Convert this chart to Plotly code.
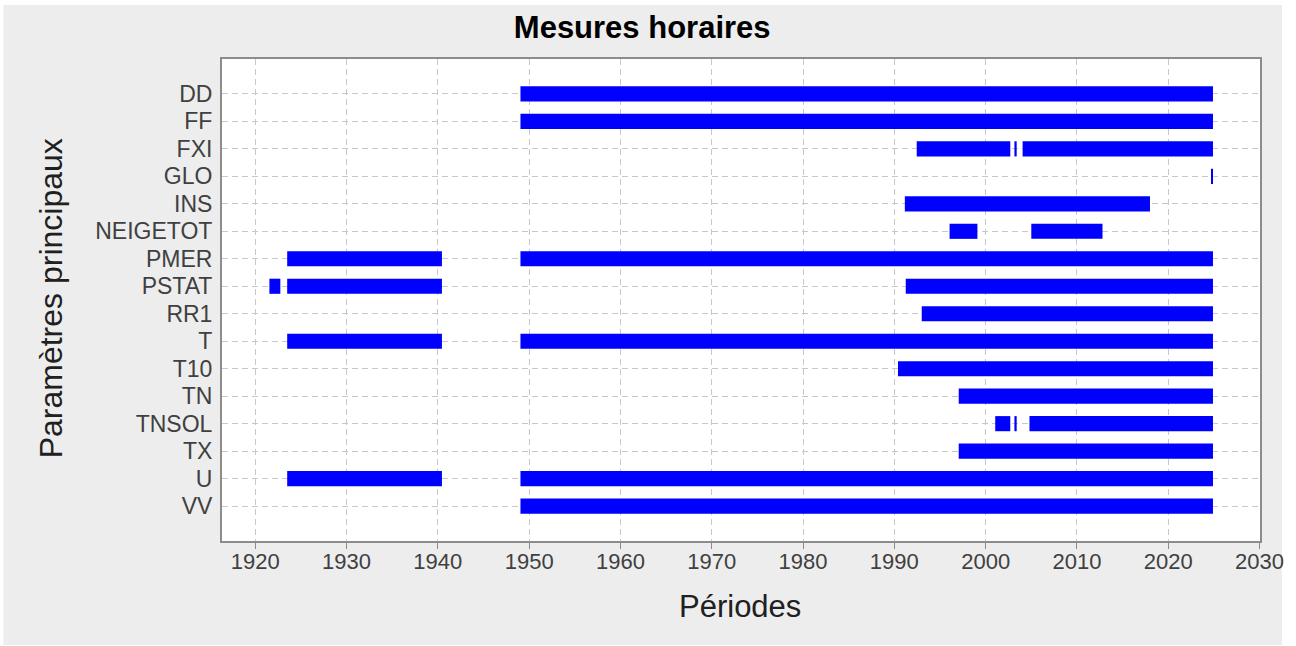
import plotly.graph_objects as go

# Parameters (top to bottom) and their measurement periods (start year, end year)
parametres = ["DD", "FF", "FXI", "GLO", "INS", "NEIGETOT", "PMER", "PSTAT",
              "RR1", "T", "T10", "TN", "TNSOL", "TX", "U", "VV"]

periodes = {
    "DD": [(1949.05, 2024.9)],
    "FF": [(1949.05, 2024.9)],
    "FXI": [(1992.45, 2002.7), (2003.15, 2003.4), (2004.05, 2024.9)],
    "GLO": [(2024.78, 2024.9)],
    "INS": [(1991.15, 2018.0)],
    "NEIGETOT": [(1996.05, 1999.1), (2005.0, 2012.8)],
    "PMER": [(1923.5, 1940.45), (1949.05, 2024.9)],
    "PSTAT": [(1921.55, 1922.75), (1923.5, 1940.45), (1991.25, 2024.9)],
    "RR1": [(1993.0, 2024.9)],
    "T": [(1923.5, 1940.45), (1949.05, 2024.9)],
    "T10": [(1990.4, 2024.9)],
    "TN": [(1997.05, 2024.9)],
    "TNSOL": [(2001.05, 2002.7), (2003.15, 2003.4), (2004.8, 2024.9)],
    "TX": [(1997.05, 2024.9)],
    "U": [(1923.5, 1940.45), (1949.05, 2024.9)],
    "VV": [(1949.05, 2024.9)],
}

annees_ticks = [1920, 1930, 1940, 1950, 1960, 1970, 1980, 1990, 2000, 2010, 2020, 2030]

titre = "Mesures horaires"
titre_x = "Périodes"
titre_y = "Paramètres principaux"

# Flatten the periods into one horizontal bar trace (start = base, length = x)
ys, bases, longueurs = [], [], []
for p in parametres:
    for debut, fin in periodes[p]:
        ys.append(p)
        bases.append(debut)
        longueurs.append(fin - debut)

W, H = 1296, 646
L, R, T, B = 222, 1262, 59, 541  # plot area in pixels
pw, ph = R - L, B - T


def px_x(x):
    return (x - L) / pw


def px_y(y):
    return (B - y) / ph


police = "Liberation Sans, Arial, sans-serif"

fig = go.Figure()
fig.add_trace(go.Bar(
    y=ys, x=longueurs, base=bases, orientation="h",
    width=0.55, marker=dict(color="#0000ff", line=dict(width=0)),
    hoverinfo="skip", showlegend=False,
))

grille = dict(showgrid=True, gridcolor="#c8c8c8", gridwidth=1, griddash="6px,4px")

fig.update_layout(
    width=W, height=H,
    margin=dict(l=L, r=W - R, t=T, b=H - B, pad=0),
    paper_bgcolor="white",
    plot_bgcolor="rgba(0,0,0,0)",
    font=dict(family=police, color="#404040"),
    title=dict(text="<b>" + titre + "</b>", font=dict(size=31, color="black", family=police),
               xref="paper", x=px_x(643), xanchor="center",
               yref="container", y=1 - 27 / H, yanchor="middle"),
    xaxis=dict(range=[1916.36, 2030.05], tickvals=annees_ticks, ticks="outside",
               ticklen=6, tickwidth=1, tickcolor="#8c8c8c", ticklabelstandoff=-6,
               tickfont=dict(size=22, color="#404040"),
               showline=True, linewidth=2, linecolor="#8c8c8c", mirror=True,
               zeroline=False, **grille),
    yaxis=dict(type="category", categoryorder="array", categoryarray=parametres,
               tickmode="array", tickvals=parametres, ticktext=parametres,
               range=[16.27, -1.27], ticks="", ticklabelstandoff=3,
               tickfont=dict(size=23, color="#404040"),
               showline=True, linewidth=2, linecolor="#8c8c8c", mirror=True,
               zeroline=False, **grille),
    shapes=[
        dict(type="rect", xref="paper", yref="paper", layer="below",
             x0=px_x(3), x1=px_x(1284), y0=px_y(645), y1=px_y(5),
             fillcolor="#ededed", line=dict(width=0)),
        dict(type="rect", xref="paper", yref="paper", layer="below",
             x0=0, x1=1, y0=0, y1=1, fillcolor="white", line=dict(width=0)),
    ],
    annotations=[
        dict(text=titre_x, xref="paper", yref="paper", x=px_x(741), y=px_y(606),
             xanchor="center", yanchor="middle", showarrow=False,
             font=dict(size=31, color="#202020", family=police)),
        dict(text=titre_y, xref="paper", yref="paper", x=px_x(51), y=px_y(298),
             xanchor="center", yanchor="middle", showarrow=False, textangle=-90,
             font=dict(size=32, color="#202020", family=police)),
    ],
)

fig.write_html("out.html")
